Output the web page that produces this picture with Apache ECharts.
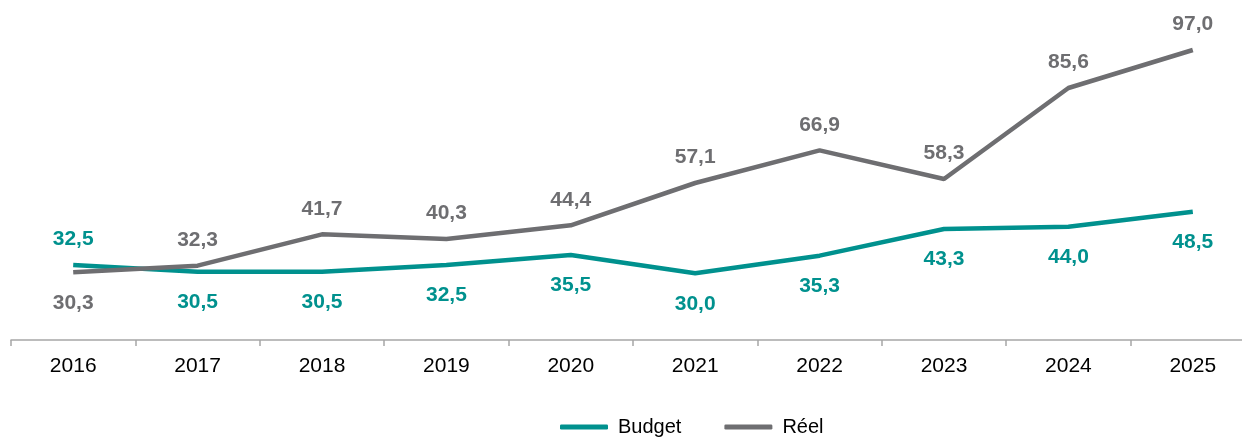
<!DOCTYPE html>
<html>
<head>
<meta charset="utf-8">
<script src="https://cdn.jsdelivr.net/npm/echarts@6/dist/echarts.min.js"></script>
<style>
html,body{margin:0;padding:0;background:#fff;}
#chart{width:1242px;height:438px;}
</style>
</head>
<body>
<div id="chart"></div>
<script>
var categories = ['2016','2017','2018','2019','2020','2021','2022','2023','2024','2025'];
var budget = [32.5, 30.5, 30.5, 32.5, 35.5, 30.0, 35.3, 43.3, 44.0, 48.5];
var reel = [30.3, 32.3, 41.7, 40.3, 44.4, 57.1, 66.9, 58.3, 85.6, 97.0];
var budgetLabelPos = ['top','bottom','bottom','bottom','bottom','bottom','bottom','bottom','bottom','bottom'];
var reelLabelPos = ['bottom','top','top','top','top','top','top','top','top','top'];

var TEAL = '#00918e';
var GREY = '#6e6e71';
var FONT = 'Liberation Sans, Arial, sans-serif';
var fmt = function (p) { return p.value.toFixed(1).replace('.', ','); };

function build(values, positions) {
  return values.map(function (v, i) {
    return { value: v, label: { position: positions[i], distance: positions[i] === 'top' ? 15 : 20 } };
  });
}

var chart = echarts.init(document.getElementById('chart'));
chart.setOption({
  animation: false,
  grid: { left: 11, right: -13, top: 40, bottom: 98, outerBoundsMode: 'none' },
  legend: {
    top: 412,
    left: 555,
    icon: 'roundRect',
    itemWidth: 48,
    itemHeight: 5,
    itemGap: 43,
    textStyle: { fontFamily: FONT, fontSize: 20, color: '#000', padding: [0, 0, 0, 5] },
    data: ['Budget', 'Réel']
  },
  xAxis: {
    type: 'category',
    data: categories,
    boundaryGap: true,
    axisLine: { lineStyle: { color: '#a6a6a6', width: 1.5 } },
    axisTick: { show: true, interval: 0, length: 6, lineStyle: { color: '#a6a6a6', width: 1.5 } },
    axisLabel: { margin: 16, fontFamily: FONT, fontSize: 21, color: '#000', interval: 0 }
  },
  yAxis: {
    type: 'value', min: 10, max: 100, show: false, splitLine: { show: false }
  },
  series: [
    {
      name: 'Budget', type: 'line', data: build(budget, budgetLabelPos),
      symbol: 'circle', symbolSize: 0, showSymbol: true,
      lineStyle: { color: TEAL, width: 4.5 },
      itemStyle: { color: TEAL },
      label: { show: true, formatter: fmt, color: TEAL, fontFamily: FONT, fontSize: 21, fontWeight: 'bold' },
      z: 3
    },
    {
      name: 'Réel', type: 'line', data: build(reel, reelLabelPos),
      symbol: 'circle', symbolSize: 0, showSymbol: true,
      lineStyle: { color: GREY, width: 4.5 },
      itemStyle: { color: GREY },
      label: { show: true, formatter: fmt, color: GREY, fontFamily: FONT, fontSize: 21, fontWeight: 'bold' },
      z: 4
    }
  ]
});
</script>
</body>
</html>
